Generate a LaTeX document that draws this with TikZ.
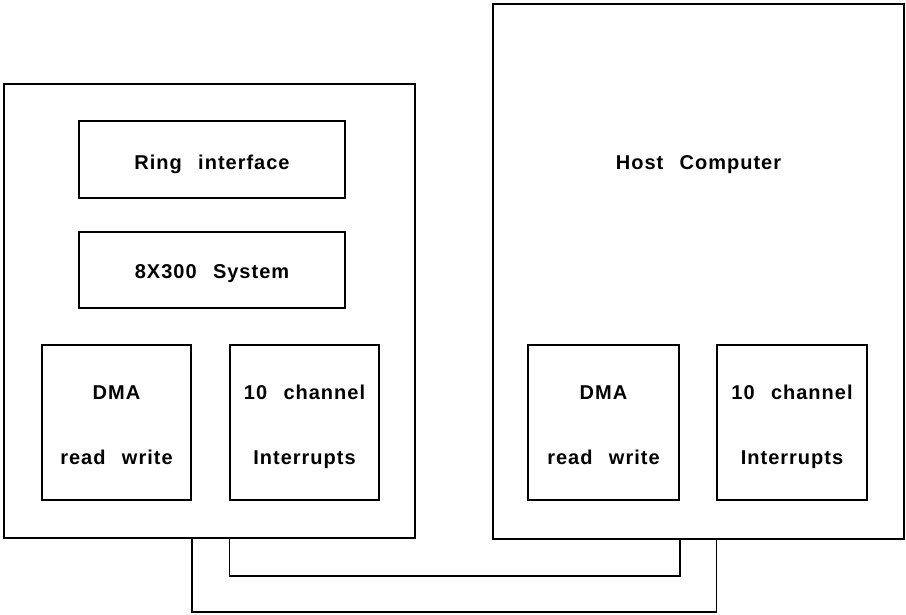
\documentclass[tikz,border=0pt]{standalone}
\usepackage{fontspec}
\newfontfamily\plotfont{Liberation Sans}[LetterSpace=5,WordSpace=2.5]
\usetikzlibrary{positioning}

\tikzset{
  unit/.style={draw,line width=1.5pt,rectangle,inner sep=0pt},
  lbl/.style={anchor=base,inner sep=0pt,font=\plotfont\bfseries\fontsize{20}{22}\selectfont},
  wire/.style={line width=1.5pt}
}

\begin{document}
\begin{tikzpicture}[x=1pt,y=1pt,yscale=-1,xscale=1]
        \useasboundingbox (0,0) rectangle (906,614);

        %Shape: Rectangle (ring station card)
        \node [unit,minimum width=411,minimum height=454] (card) at (209.5,311) {};
        %Shape: Rectangle (host)
        \node [unit,minimum width=411,minimum height=535] (host) at (698.5,271.5) {};

        %Shape: Rectangle
        \node [unit,minimum width=266,minimum height=77] (ring) at (212,159.5) {};
        %Shape: Rectangle
        \node [unit,minimum width=266,minimum height=76] (sys) at (212,270) {};
        %Shape: Rectangle
        \node [unit,minimum width=149,minimum height=155] (dmaL) at (116.5,422.5) {};
        %Shape: Rectangle
        \node [unit,minimum width=149,minimum height=155] (ioL) at (304.5,422.5) {};
        %Shape: Rectangle
        \node [unit,minimum width=151,minimum height=155] (dmaH) at (603.5,422.5) {};
        %Shape: Rectangle
        \node [unit,minimum width=150,minimum height=155] (ioH) at (792,422.5) {};

        % bus levels under the boxes
        \coordinate (busI) at (0,576);
        \coordinate (busO) at (0,612);

        %Straight Lines (inner bus)
        \draw [wire] (ioL.west |- card.south) -- (ioL.west |- busI) -- (dmaH.east |- busI) -- (dmaH.east |- host.south);
        %Straight Lines (outer bus)
        \draw [wire] (dmaL.east |- card.south) -- (dmaL.east |- busO) -- (ioH.west |- busO) -- (ioH.west |- host.south);

        % Text Node
        \node [lbl] (tRing) at (212,169) {Ring interface};
        % Text Node
        \node [lbl] (tSys) at (212,278) {8X300 System};
        % Text Node
        \node [lbl] (tHost) at (698.5,169) {Host Computer};
        % Text Node
        \node [lbl] (tDmaL) at (116.5,399) {DMA};
        \node [lbl] (tRwL) at (116.5,464) {read write};
        % Text Node
        \node [lbl] (tIoL) at (304.5,399) {10 channel};
        \node [lbl] (tIntL) at (304.5,464) {Interrupts};
        % Text Node
        \node [lbl] (tDmaH) at (603.5,399) {DMA};
        \node [lbl] (tRwH) at (603.5,464) {read write};
        % Text Node
        \node [lbl] (tIoH) at (792,399) {10 channel};
        \node [lbl] (tIntH) at (792,464) {Interrupts};

\end{tikzpicture}
\end{document}
